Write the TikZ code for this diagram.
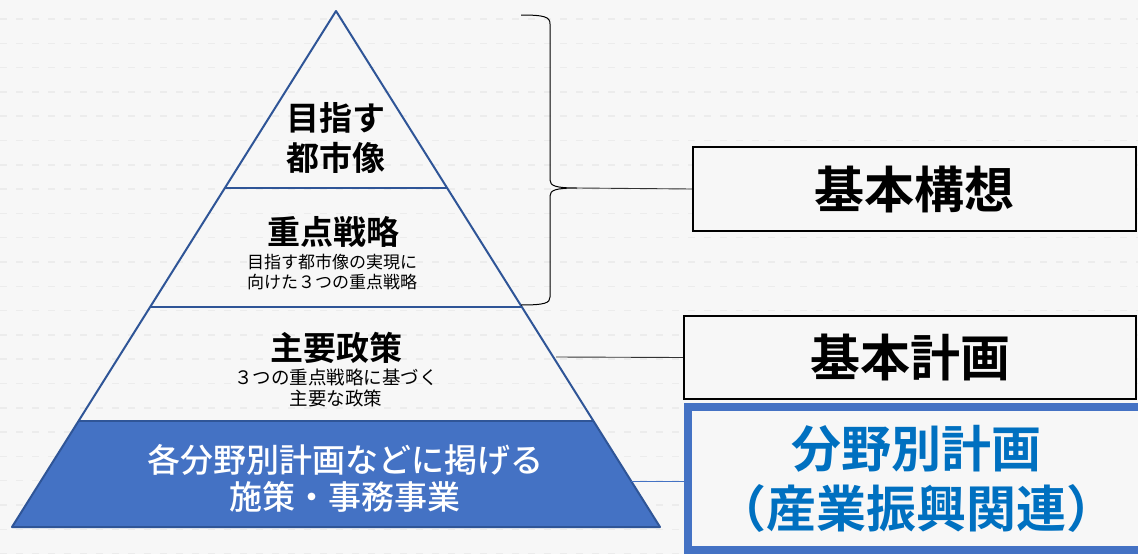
\documentclass[tikz,border=0pt]{standalone}
\usepackage{fontspec}
\setmainfont{Noto Sans CJK JP}[BoldFont={Noto Sans CJK JP Bold}]
\newfontfamily\mediumfont{Noto Sans CJK JP Medium}
\usetikzlibrary{positioning}
\definecolor{pyrline}{HTML}{2F5597}
\definecolor{pyrfill}{HTML}{4472C4}
\definecolor{plantext}{HTML}{0070C0}
\definecolor{bgcol}{HTML}{F7F7F7}
\definecolor{gridcol}{HTML}{ECECEC}

\tikzset{
  tiertitle/.style={font=\fontsize{33}{40}\selectfont\bfseries, align=center, inner sep=0pt},
  tiersub/.style={font=\fontsize{17}{20.5}\selectfont, align=center, inner sep=0pt},
  planbox/.style={draw=black, line width=2.2pt, fill=bgcol, inner sep=0pt,
    font=\fontsize{50}{56}\selectfont\bfseries},
  link/.style={line width=0.9pt, draw=black!80}
}

\begin{document}
\begin{tikzpicture}[x=1pt, y=-1pt]
      \useasboundingbox (0,0) rectangle (1138,554);
      \clip (0,0) rectangle (1138,554);
      \fill[bgcol] (0,0) rectangle (1138,554);
      \foreach \k in {0,...,22} {
        \draw[gridcol, line width=1.5pt, dash pattern=on 7pt off 9pt] (0,{19+24.3*\k}) -- (1138,{19+24.3*\k});
      }

      % pyramid
      \coordinate (apex) at (336,11);
      \coordinate (baseL) at (12,527);
      \coordinate (baseR) at (660,527);
      \fill[pyrfill] (79,421) -- (593,421) -- (baseR) -- (baseL) -- cycle;
      \draw[pyrline, line width=2pt, line join=round] (apex) -- (baseR) -- (baseL) -- cycle;
      \draw[pyrline, line width=2pt] (225,188) -- (447,188)  (150,307) -- (522,307)  (79,421) -- (593,421);

      \node (vision) at (336,138) [tiertitle] {目指す\\都市像};
      \node (strat) at (333,232) [tiertitle] {重点戦略};
      \node (stratsub) at (332,272) [tiersub] {目指す都市像の実現に\\向けた３つの重点戦略};
      \node (policy) at (336,348) [tiertitle] {主要政策};
      \node (policysub) at (336,388) [tiersub, font=\fontsize{18.5}{21}\selectfont] {３つの重点戦略に基づく\\主要な政策};
      \node (works) at (345,478) [align=center, inner sep=0pt, text=white, font=\mediumfont\fontsize{33}{37}\selectfont] {各分野別計画などに掲げる\\施策・事務事業};

      % plans
      \node (concept) at (914.5,189) [planbox, minimum width=443pt, minimum height=84pt] {基本構想};
      \node (basic) at (910,357.5) [planbox, minimum width=452pt, minimum height=83pt] {基本計画};
      \node (field) at (916,478.5) [planbox, draw=pyrfill, line width=8pt, minimum width=456pt, minimum height=143pt,
        text=plantext, align=center, font=\fontsize{50}{60}\selectfont\bfseries] {分野別計画\\（産業振興関連）};

      % brace
      \coordinate (bracetip) at (577,188);
      \draw[line width=1pt] (521,15) .. controls (545,15) and (550,17) .. (550,24) -- (550,180)
        .. controls (550,186) and (556,188) .. (bracetip)
        .. controls (556,188) and (550,190) .. (550,196) -- (550,297)
        .. controls (550,303) and (545,305) .. (521,305);
      \draw[link] (bracetip) -- (concept.west);

      \coordinate (policyedge) at (556,357);
      \coordinate (worksedge) at (631,481);
      \draw[link] (policyedge) -- (basic.west);
      \draw[pyrfill, line width=1pt] (worksedge) -- (field.west |- worksedge);
\end{tikzpicture}
\end{document}
